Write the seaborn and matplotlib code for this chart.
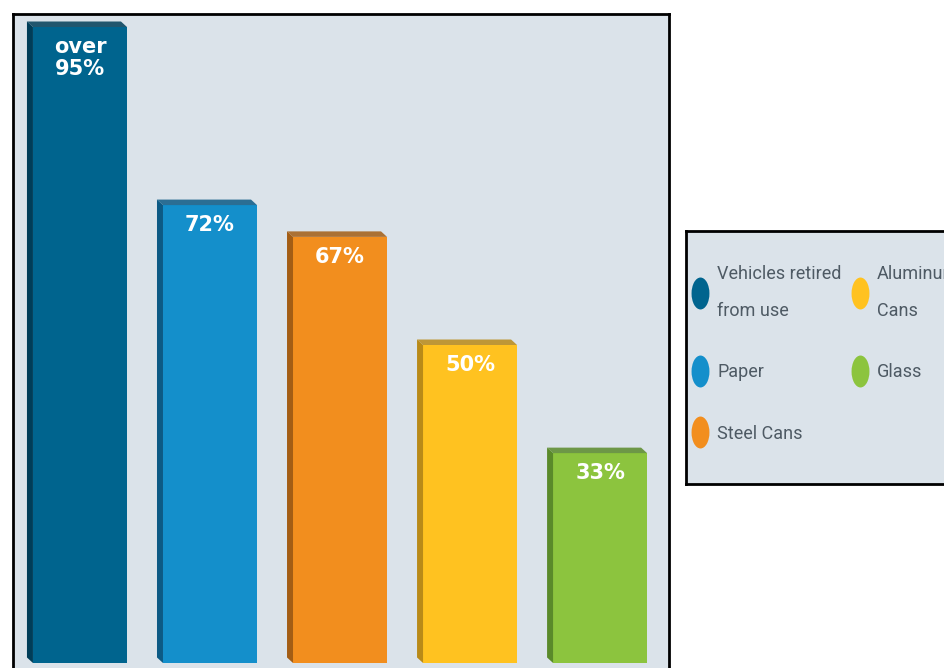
import matplotlib
matplotlib.use("Agg")
import matplotlib.pyplot as plt
import matplotlib.path as mpath
from matplotlib.patches import Polygon
from matplotlib.lines import Line2D
import seaborn as sns
import pandas as pd
import numpy as np

# ---- data ----
categories = ["Vehicles retired from use", "Paper", "Steel Cans", "Aluminum Cans", "Glass"]
legend_labels = ["Vehicles retired\nfrom use", "Paper", "Steel Cans", "Aluminum\nCans", "Glass"]
values = [100, 72, 67, 50, 33]          # drawn bar heights (percent)
bar_labels = ["over\n95%", "72%", "67%", "50%", "33%"]
colors = ["#00648e", "#148fcb", "#f28e1e", "#ffc220", "#8cc43e"]
side_colors = ["#003d58", "#0c5a85", "#a35d14", "#b98a18", "#5a8a2a"]

df = pd.DataFrame({"category": categories, "value": values})

BG = "#dbe3ea"
W, H = 944, 668
fig = plt.figure(figsize=(W / 100, H / 100), dpi=100)
fig.patch.set_facecolor("white")

# pixel -> figure fraction helper
def fx(px):
    return px / W

def fy(py):
    return (H - py) / H

ax = fig.add_axes([fx(13), fy(678), 656 / W, 664 / H])
ax.set_facecolor(BG)

sns.barplot(data=df, x="category", y="value", hue="category", palette=colors,
            width=0.723, dodge=False, legend=False, saturation=1, ax=ax,
            edgecolor="none", linewidth=0)

ppu_y = 6.36   # pixels per percent
ax.set_xlim(-0.515, 4.53)
ax.set_ylim(-15 / ppu_y, (663 - 14) / ppu_y)

# 3D-ish side and top faces derived from the bar patches
dx, dy = 6 / 130.0, 5.5 / ppu_y
bars = list(ax.patches)[:len(values)]
for bar, sc in zip(bars, side_colors):
    x0 = bar.get_x()
    x1 = x0 + bar.get_width()
    h = bar.get_height()
    ax.add_patch(Polygon([(x0, 0), (x0 - dx, dy), (x0 - dx, h + dy), (x0, h)],
                         closed=True, facecolor=sc, edgecolor="none", zorder=1))
    ax.add_patch(Polygon([(x0, h), (x0 - dx, h + dy), (x1 - dx, h + dy), (x1, h)],
                         closed=True, facecolor=sc, edgecolor="none", zorder=1, alpha=0.85))

for bar, lab in zip(bars, bar_labels):
    cx = bar.get_x() + bar.get_width() / 2
    ax.annotate(lab, xy=(cx, bar.get_height()), xytext=(0, -7),
                textcoords="offset points", ha="center", va="top",
                color="white", fontsize=15, fontweight="bold",
                family="DejaVu Sans", linespacing=1.15)

ax.set_xlabel("")
ax.set_ylabel("")
ax.set_xticks([])
ax.set_yticks([])
for s in ax.spines.values():
    s.set_color("black")
    s.set_linewidth(2)

# ---- legend box ----
lax = fig.add_axes([fx(686), fy(484), 274 / W, 253 / H])
lax.set_facecolor(BG)
lax.set_xticks([])
lax.set_yticks([])
for s in lax.spines.values():
    s.set_color("black")
    s.set_linewidth(2)

circ = mpath.Path.unit_circle()
ell = mpath.Path(circ.vertices * np.array([0.56, 1.0]), circ.codes)
handles = [Line2D([], [], linestyle="none", marker=ell, markersize=23,
                  markerfacecolor=c, markeredgecolor="none") for c in colors]

FS = 13
fs_px = FS * 100 / 72
leg_kw = dict(loc="upper left", frameon=False, bbox_transform=fig.transFigure,
              prop={"family": "Roboto", "size": FS}, labelcolor="#4e5a64",
              handlelength=1.0, handletextpad=8 / fs_px, labelspacing=2.4,
              borderpad=0, borderaxespad=0)
leg1 = lax.legend(handles[:3], legend_labels[:3],
                  bbox_to_anchor=(fx(691), fy(265)), **leg_kw)
lax.add_artist(leg1)
leg2 = lax.legend(handles[3:], legend_labels[3:],
                  bbox_to_anchor=(fx(850.5), fy(265)), **leg_kw)
for lg in (leg1, leg2):
    for t in lg.get_texts():
        t.set_linespacing(2.35)

fig.savefig("out.png", dpi=100)
